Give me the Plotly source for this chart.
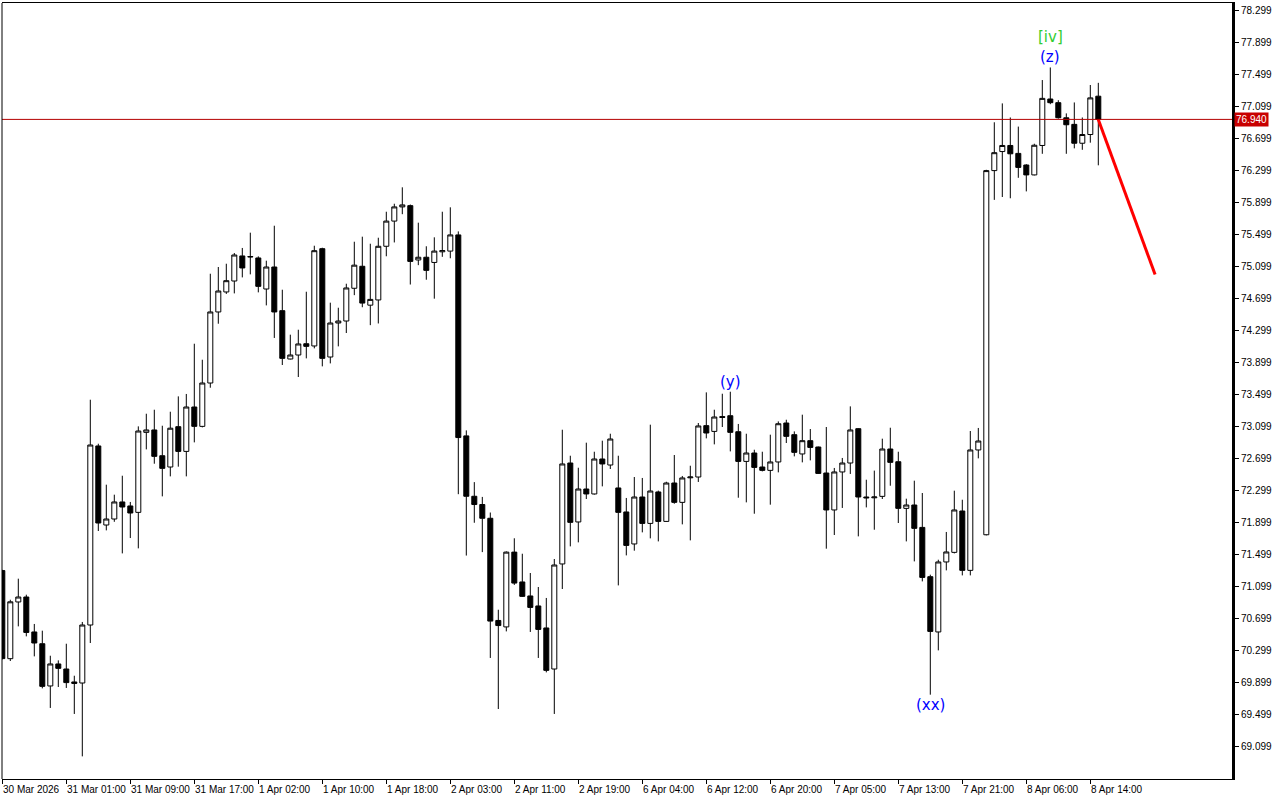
import plotly.graph_objects as go

# ---------------- data (hourly bars) ----------------
opens = [71.30, 70.199, 70.908, 70.97, 70.533, 70.386, 69.858, 70.133, 70.07, 69.908,
         69.895, 70.62, 72.858, 71.87, 71.945, 72.158, 72.108, 72.028, 73.028, 73.058,
         72.736, 72.595, 73.099, 72.79, 73.345, 73.103, 73.645, 74.533, 74.783, 74.92,
         75.233, 75.22, 75.208, 74.82, 75.095, 74.549, 73.945, 73.995, 74.136, 74.108,
         75.324, 73.97, 74.395, 74.42, 74.829, 75.104, 74.618, 74.683, 75.354, 75.669,
         75.846, 75.862, 75.183, 75.217, 75.152, 75.285, 75.294, 75.496, 72.984, 72.229,
         72.126, 71.954, 70.677, 70.596, 71.531, 71.158, 70.983, 70.858, 70.583, 70.07,
         71.383, 72.645, 71.908, 72.32, 72.258, 72.695, 72.62, 72.333, 72.033, 71.633,
         72.22, 71.89, 72.283, 71.915, 72.395, 72.153, 72.46, 72.47, 73.112, 73.04,
         73.225, 73.236, 73.036, 72.665, 72.77, 72.595, 72.553, 72.658, 73.145, 72.999,
         72.758, 72.924, 72.845, 72.52, 72.058, 72.533, 72.645, 73.074, 72.22, 72.21,
         72.228, 72.82, 72.661, 72.078, 72.12, 71.84, 71.224, 70.533, 71.408, 71.528,
         72.045, 71.303, 72.808, 71.748, 76.30, 76.538, 76.614, 76.515, 76.37, 76.246,
         76.614, 77.195, 77.149, 76.96, 76.878, 76.642, 76.751, 77.23]
highs = [71.31, 70.936, 71.199, 70.999, 70.633, 70.549, 70.236, 70.178, 70.386, 69.986,
         70.658, 73.436, 72.886, 72.374, 72.249, 72.486, 72.158, 73.103, 73.261, 73.311,
         73.111, 73.286, 73.478, 73.508, 74.136, 73.936, 75.011, 75.095, 75.136, 75.27,
         75.333, 75.524, 75.228, 75.174, 75.611, 74.811, 74.249, 74.311, 74.786, 75.361,
         75.336, 74.649, 74.586, 74.886, 75.411, 75.474, 75.386, 75.461, 75.786, 75.886,
         76.091, 75.876, 75.649, 75.354, 75.466, 75.786, 75.841, 75.54, 73.053, 72.406,
         72.221, 72.026, 70.811, 71.54, 71.704, 71.511, 71.27, 71.095, 70.958, 71.445,
         73.061, 72.736, 72.586, 72.899, 72.786, 72.924, 73.011, 72.736, 72.208, 72.47,
         72.458, 73.124, 72.30, 72.411, 72.745, 72.483, 72.611, 73.145, 73.528, 73.311,
         73.511, 73.536, 73.133, 73.011, 72.811, 72.786, 72.999, 73.165, 73.186, 73.04,
         73.249, 73.07, 72.85, 73.095, 72.583, 72.708, 73.353, 73.08, 72.436, 72.55,
         72.949, 73.086, 72.786, 72.199, 72.424, 72.27, 71.249, 71.436, 71.783, 72.299,
         72.186, 73.045, 73.083, 76.31, 76.904, 77.14, 76.964, 76.85, 76.38, 76.636,
         77.432, 77.589, 77.18, 77.015, 77.152, 76.964, 77.37, 77.397]
lows = [70.19, 70.17, 70.603, 70.478, 70.228, 69.828, 69.583, 69.845, 69.833, 69.508,
        68.978, 70.395, 71.795, 71.803, 71.91, 71.515, 71.707, 71.578, 72.815, 72.636,
        72.228, 72.478, 72.599, 72.478, 72.903, 73.09, 73.586, 74.386, 74.758, 74.765,
        74.965, 75.003, 74.778, 74.615, 74.208, 73.87, 73.94, 73.72, 73.953, 74.078,
        73.853, 73.89, 74.103, 74.27, 74.743, 74.592, 74.368, 74.389, 75.229, 75.402,
        75.755, 74.876, 75.118, 74.936, 74.699, 75.222, 75.204, 72.255, 71.488, 71.898,
        71.531, 70.208, 69.57, 70.54, 71.121, 70.97, 70.533, 70.208, 70.028, 69.508,
        71.07, 71.603, 71.653, 72.195, 72.25, 72.353, 72.57, 71.115, 71.49, 71.549,
        71.778, 71.703, 71.665, 71.91, 72.136, 71.878, 71.678, 72.408, 72.953, 72.878,
        73.095, 72.79, 72.211, 72.153, 72.011, 72.54, 72.124, 72.528, 72.895, 72.728,
        72.653, 72.678, 72.51, 71.574, 71.745, 72.083, 72.508, 71.728, 72.09, 71.811,
        72.195, 72.361, 71.895, 71.665, 71.415, 71.165, 69.749, 70.303, 71.303, 71.515,
        71.24, 71.24, 72.703, 71.74, 75.934, 75.97, 75.954, 76.21, 76.04, 76.24,
        76.51, 77.13, 76.95, 76.51, 76.578, 76.56, 76.649, 76.366]
closes = [70.20, 70.91, 70.97, 70.527, 70.395, 69.853, 70.133, 70.078, 69.90, 69.89,
          70.62, 72.87, 71.895, 71.945, 72.158, 72.095, 72.02, 73.045, 73.058, 72.728,
          72.578, 73.08, 72.79, 73.345, 73.103, 73.645, 74.533, 74.795, 74.924, 75.245,
          75.083, 75.225, 74.853, 75.095, 74.533, 73.953, 73.995, 74.133, 74.103, 75.299,
          73.953, 74.395, 74.42, 74.833, 75.118, 74.644, 74.69, 75.354, 75.669, 75.846,
          75.871, 75.165, 75.217, 75.053, 75.294, 75.30, 75.496, 72.963, 72.229, 72.126,
          71.954, 70.669, 70.613, 71.531, 71.144, 70.978, 70.84, 70.565, 70.053, 71.37,
          72.633, 71.903, 72.32, 72.258, 72.695, 72.633, 72.945, 72.028, 71.615, 72.22,
          71.89, 72.295, 71.915, 72.395, 72.153, 72.458, 72.47, 73.108, 73.02, 73.22,
          73.215, 73.028, 72.665, 72.77, 72.59, 72.553, 72.658, 73.136, 72.978, 72.778,
          72.924, 72.84, 72.515, 72.058, 72.533, 72.645, 73.058, 72.22, 72.21, 72.22,
          72.82, 72.653, 72.078, 72.12, 71.828, 71.215, 70.54, 71.408, 71.533, 72.058,
          71.303, 72.808, 72.92, 76.30, 76.524, 76.614, 76.51, 76.34, 76.246, 76.617,
          77.203, 77.149, 76.961, 76.873, 76.642, 76.751, 77.209, 76.94]

bar_index = list(range(len(closes)))

# time-axis labels every 8 bars
time_tick_bars = [0, 8, 16, 24, 32, 40, 48, 56, 64, 72, 80, 88, 96, 104, 112, 120, 128, 136]
time_tick_labels = ["30 Mar 2026", "31 Mar 01:00", "31 Mar 09:00", "31 Mar 17:00",
                    "1 Apr 02:00", "1 Apr 10:00", "1 Apr 18:00", "2 Apr 03:00",
                    "2 Apr 11:00", "2 Apr 19:00", "6 Apr 04:00", "6 Apr 12:00",
                    "6 Apr 20:00", "7 Apr 05:00", "7 Apr 13:00", "7 Apr 21:00",
                    "8 Apr 06:00", "8 Apr 14:00"]

# price axis labels
price_ticks = [69.099, 69.499, 69.899, 70.299, 70.699, 71.099, 71.499, 71.899, 72.299,
               72.699, 73.099, 73.499, 73.899, 74.299, 74.699, 75.099, 75.499, 75.899,
               76.299, 76.699, 77.099, 77.499, 77.899, 78.299]

# Elliott wave marks: label, bar, attached to high ("H") or low ("L")
wave_labels = ["(y)", "(xx)", "(z)", "[iv]"]
wave_bars = [91, 116, 131, 131]
wave_side = ["H", "L", "H", "H"]
wave_colors = ["#0000FF", "#0000FF", "#0000FF", "#32CD32"]
wave_lift = [0, 0, 0, 20]

# forecast segment (red)
forecast_bars = [137, 144.1]
forecast_prices = [76.94, 75.00]

last_price = closes[-1]

# ---------------- figure ----------------
fig = go.Figure()

fig.add_trace(go.Candlestick(
    x=bar_index, open=opens, high=highs, low=lows, close=closes,
    increasing=dict(line=dict(color="black", width=1), fillcolor="white"),
    decreasing=dict(line=dict(color="black", width=1), fillcolor="black"),
    whiskerwidth=0, hoverinfo="skip", showlegend=False,
))

fig.add_trace(go.Scatter(
    x=forecast_bars, y=forecast_prices, mode="lines",
    line=dict(color="#FF0000", width=3), hoverinfo="skip", showlegend=False,
))

# current price line
fig.add_shape(type="line", xref="paper", x0=0, x1=1, yref="y", y0=last_price, y1=last_price,
              line=dict(color="#B40000", width=1), layer="above")

# left border
fig.add_shape(type="line", xref="paper", x0=0, x1=0, yref="paper", y0=0, y1=1,
              line=dict(color="black", width=1))

annotations = []
# time labels (left aligned at the tick like the terminal)
for b, t in zip(time_tick_bars, time_tick_labels):
    annotations.append(dict(x=b, xref="x", y=0, yref="paper", text=t, showarrow=False,
                            xanchor="left", yanchor="top", yshift=-3, xshift=-1,
                            font=dict(family="Liberation Sans, Arial", size=10, color="black")))

# price label
annotations.append(dict(x=1, xref="paper", y=last_price, yref="y", text=f"{last_price:.3f}",
                        showarrow=False, xanchor="left", yanchor="middle", xshift=2,
                        bgcolor="#C80000", borderpad=1,
                        font=dict(family="Liberation Sans, Arial", size=10, color="white")))

# wave labels
for lab, b, s, c, lift in zip(wave_labels, wave_bars, wave_side, wave_colors, wave_lift):
    if s == "H":
        annotations.append(dict(x=b, y=highs[b], xref="x", yref="y", text=lab, showarrow=False,
                                xanchor="center", yanchor="bottom", yshift=-1 + lift,
                                font=dict(family="DejaVu Sans", size=15, color=c)))
    else:
        annotations.append(dict(x=b, y=lows[b], xref="x", yref="y", text=lab, showarrow=False,
                                xanchor="center", yanchor="top", yshift=1,
                                font=dict(family="DejaVu Sans", size=15, color=c)))

fig.update_layout(
    width=1280, height=800,
    margin=dict(l=2, r=48, t=3, b=21),
    paper_bgcolor="white", plot_bgcolor="white",
    showlegend=False,
    boxgap=0.375, boxgroupgap=0,
    annotations=annotations,
    xaxis=dict(
        range=[-0.0375, 153.7125],
        rangeslider=dict(visible=False),
        showgrid=False, zeroline=False,
        tickmode="array", tickvals=time_tick_bars, ticktext=[""] * len(time_tick_bars),
        ticks="outside", ticklen=4, tickcolor="black", tickwidth=1,
        showline=True, linecolor="black", linewidth=1, mirror=True,
        fixedrange=True,
    ),
    yaxis=dict(
        side="right",
        range=[68.695, 78.395],
        showgrid=False, zeroline=False,
        tickmode="array", tickvals=price_ticks,
        ticktext=[f"{v:.3f}" for v in price_ticks],
        ticks="outside", ticklen=4, tickcolor="black", tickwidth=1,
        tickfont=dict(family="Liberation Sans, Arial", size=10, color="black"),
        showline=True, linecolor="black", linewidth=3,
        fixedrange=True,
    ),
)

fig.write_html(
    "out.html",
    config={"displayModeBar": False, "staticPlot": True},
    post_script="document.body.style.margin='0';document.body.style.overflow='hidden';",
)
